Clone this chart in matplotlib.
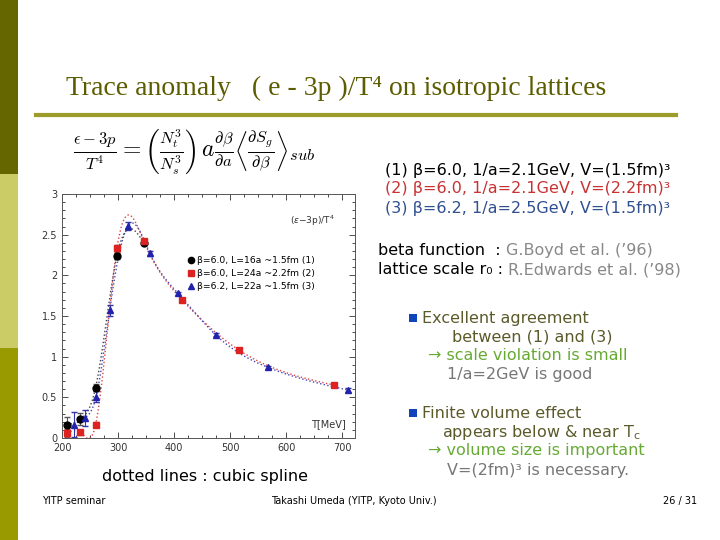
import matplotlib
matplotlib.use('Agg')
import matplotlib.pyplot as plt
import numpy as np
from matplotlib.patches import Rectangle
from matplotlib.lines import Line2D

# data
t1 = [209, 233, 260, 298, 346]
e1 = [0.156, 0.234, 0.62, 2.24, 2.40]
err1 = [0.10, 0.07, 0.04, 0.04, 0.03]

t2 = [209, 233, 260, 298, 346, 414, 516, 686]
e2 = [0.06, 0.07, 0.165, 2.33, 2.42, 1.70, 1.08, 0.65]
err2 = [0.05, 0.03, 0.03, 0.04, 0.03, 0.02, 0.02, 0.02]

t3 = [221, 241, 261, 285, 318, 357, 407, 474, 567, 710]
e3 = [0.165, 0.25, 0.51, 1.57, 2.61, 2.27, 1.78, 1.27, 0.87, 0.59]
err3 = [0.15, 0.10, 0.07, 0.07, 0.05, 0.03, 0.02, 0.02, 0.02, 0.02]

legend_labels = ['β=6.0, L=16a ~1.5fm (1)',
                 'β=6.0, L=24a ~2.2fm (2)',
                 'β=6.2, L=22a ~1.5fm (3)']


def natural_spline(x, y, n=300):
    x = np.asarray(x, float)
    y = np.asarray(y, float)
    k = len(x)
    h = np.diff(x)
    A = np.zeros((k, k))
    b = np.zeros(k)
    A[0, 0] = A[-1, -1] = 1
    for i in range(1, k - 1):
        A[i, i - 1] = h[i - 1]
        A[i, i] = 2 * (h[i - 1] + h[i])
        A[i, i + 1] = h[i]
        b[i] = 3 * ((y[i + 1] - y[i]) / h[i] - (y[i] - y[i - 1]) / h[i - 1])
    c = np.linalg.solve(A, b)
    xs = np.linspace(x[0], x[-1], n)
    idx = np.clip(np.searchsorted(x, xs) - 1, 0, k - 2)
    dx = xs - x[idx]
    bb = (y[idx + 1] - y[idx]) / h[idx] - h[idx] * (2 * c[idx] + c[idx + 1]) / 3
    dd = (c[idx + 1] - c[idx]) / (3 * h[idx])
    return xs, y[idx] + bb * dx + c[idx] * dx ** 2 + dd * dx ** 3


fig = plt.figure(figsize=(7.2, 5.4), dpi=100)
fig.patch.set_facecolor('white')

# left stripe
fig.add_artist(Rectangle((0, 1 - 174 / 540), 18 / 720, 174 / 540, transform=fig.transFigure,
                         color='#666600', lw=0))
fig.add_artist(Rectangle((0, 1 - 348 / 540), 18 / 720, 174 / 540, transform=fig.transFigure,
                         color='#cccc66', lw=0))
fig.add_artist(Rectangle((0, 0), 18 / 720, 192 / 540, transform=fig.transFigure,
                         color='#999900', lw=0))


def px(x, y):
    return x / 720, 1 - y / 540


# title and rule
fig.text(*px(66, 88), 'Trace anomaly   ( e - 3p )/T⁴ on isotropic lattices',
         family='Liberation Serif', fontsize=20, color='#5c5c00', va='center', ha='left')
fig.add_artist(Line2D([36 / 720, 676 / 720], [1 - 115 / 540] * 2, transform=fig.transFigure,
                      color='#9c9c2a', lw=3))

# formula
fig.text(*px(73, 152),
         r'$\frac{\epsilon - 3p}{T^4} = \left(\frac{N_t^3}{N_s^3}\right)\, a\frac{\partial\beta}{\partial a}'
         r'\left\langle\frac{\partial S_g}{\partial\beta}\right\rangle_{sub}$',
         fontsize=17, ha='left', va='center', color='black', math_fontfamily='cm')

# chart
ax = fig.add_axes([62 / 720, 1 - 438 / 540, (355 - 62) / 720, (438 - 194) / 540])
for xs_, ys_, col in [(t2, e2, '#dd4444'), (t3, e3, '#4444bb'), (t1, e1, '#444444')]:
    sx, sy = natural_spline(xs_, ys_)
    ax.plot(sx, sy, ls=':', color=col, lw=1.0)

ax.errorbar(t1, e1, yerr=err1, fmt='o', color='black', ms=5, ecolor='#555555',
            elinewidth=0.8, capsize=2)
ax.errorbar(t2, e2, yerr=err2, fmt='s', color='#dd2222', ms=5, ecolor='#aa4444',
            elinewidth=0.8, capsize=2)
ax.errorbar(t3, e3, yerr=err3, fmt='^', color='#2222aa', ms=5, ecolor='#3333aa',
            elinewidth=0.8, capsize=2)

ax.set_xlim(200, 723)
ax.set_ylim(0, 3)
ax.set_xticks([200, 300, 400, 500, 600, 700])
ax.set_yticks([0, 0.5, 1, 1.5, 2, 2.5, 3])
ax.set_yticklabels(['0', '0.5', '1', '1.5', '2', '2.5', '3'])
ax.set_xticks(np.arange(200, 725, 25), minor=True)
ax.set_yticks(np.arange(0, 3.01, 0.1), minor=True)
ax.tick_params(direction='in', top=True, right=True, labelsize=7, colors='#333333',
               length=4, width=0.6)
ax.tick_params(which='minor', direction='in', top=True, right=True, length=2, width=0.5)
for s in ax.spines.values():
    s.set_linewidth(0.7)
    s.set_color('#555555')

ax.text(607, 2.67, r'$(\epsilon$−3p)/T$^4$', fontsize=6.5, color='#333333', ha='left', va='center')
ax.text(645, 0.17, 'T[MeV]', fontsize=7, color='#333333', ha='left', va='center')
handles = [Line2D([], [], ls='none', marker='o', color='black', ms=4.5),
           Line2D([], [], ls='none', marker='s', color='#dd2222', ms=4.5),
           Line2D([], [], ls='none', marker='^', color='#2222aa', ms=4.5)]
ax.legend(handles, legend_labels, loc='upper left', bbox_to_anchor=(0.41, 0.765), frameon=False,
          fontsize=6.7, handletextpad=0.1, handlelength=1.0, labelspacing=0.45, borderpad=0)

# right text block
fs = 11.5

fig.text(*px(385, 170), '(1) β=6.0, 1/a=2.1GeV, V=(1.5fm)³', fontsize=fs, color='black', va='center')
fig.text(*px(385, 189), '(2) β=6.0, 1/a=2.1GeV, V=(2.2fm)³', fontsize=fs, color='#c83232', va='center')
fig.text(*px(385, 208), '(3) β=6.2, 1/a=2.5GeV, V=(1.5fm)³', fontsize=fs, color='#2f4f8f', va='center')

ax_ann = fig.add_axes([0, 0, 1, 1], facecolor='none')
ax_ann.axis('off')
t_a = fig.text(*px(378, 250), 'beta function  : ', fontsize=fs, color='black', va='center')
ax_ann.annotate('G.Boyd et al. (’96)', xy=(1, 0.5), xycoords=t_a, va='center', ha='left',
                fontsize=fs, color='#888888')
t_b = fig.text(*px(378, 270), 'lattice scale r₀ : ', fontsize=fs, color='black', va='center')
ax_ann.annotate('R.Edwards et al. (’98)', xy=(1, 0.5), xycoords=t_b, va='center', ha='left',
                fontsize=fs, color='#888888')

for yb in (318, 413):
    fig.add_artist(Rectangle(px(409, yb + 4), 8 / 720, 8 / 540, transform=fig.transFigure,
                             color='#1144bb', lw=0))
olive = '#5a5a2a'
green = '#66aa33'
gray = '#777777'
fig.text(*px(422, 318), 'Excellent agreement', fontsize=fs, color=olive, va='center')
fig.text(*px(452, 337), 'between (1) and (3)', fontsize=fs, color=olive, va='center')
fig.text(*px(428, 356), '→ scale violation is small', fontsize=fs, color=green, va='center')
fig.text(*px(447, 375), '1/a=2GeV is good', fontsize=fs, color=gray, va='center')
fig.text(*px(422, 413), 'Finite volume effect', fontsize=fs, color=olive, va='center')
fig.text(*px(442, 432), r'appears below & near T$_\mathrm{c}$', fontsize=fs, color=olive, va='center')
fig.text(*px(428, 451), '→ volume size is important', fontsize=fs, color=green, va='center')
fig.text(*px(447, 470), 'V=(2fm)³ is necessary.', fontsize=fs, color=gray, va='center')

fig.text(*px(102, 477), 'dotted lines : cubic spline', fontsize=fs, color='black', va='center')

# footer
fig.text(*px(42, 501), 'YITP seminar', fontsize=7, color='black', va='center')
fig.text(*px(271, 501), 'Takashi Umeda (YITP, Kyoto Univ.)', fontsize=7, color='black', va='center')
fig.text(*px(697, 501), '26 / 31', fontsize=7, color='black', va='center', ha='right')

fig.savefig('out.png', dpi=100)
